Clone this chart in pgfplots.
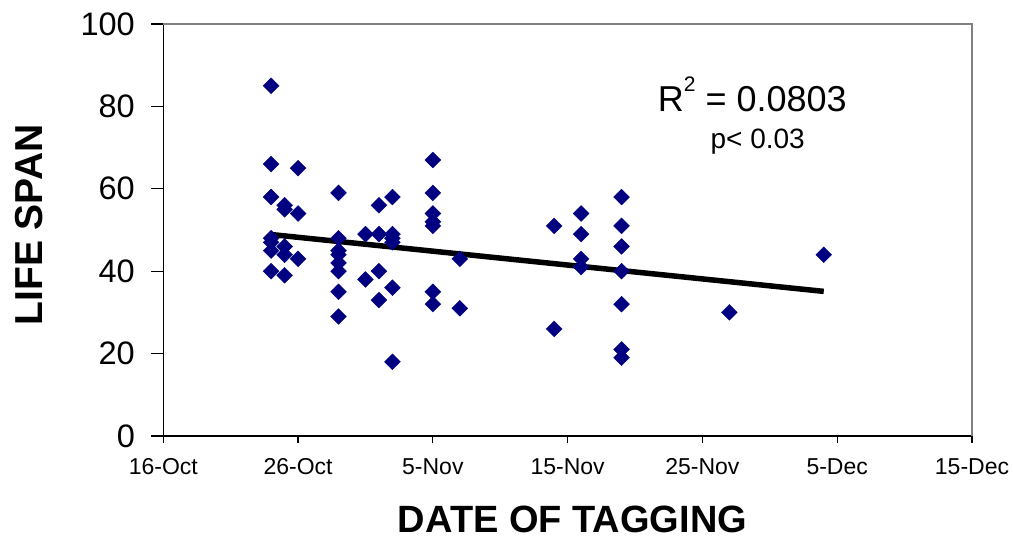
\documentclass[border=0pt]{standalone}
\usepackage{fontspec}
\setmainfont{Liberation Sans}
\usepackage{pgfplots}
\pgfplotsset{compat=1.18}

\definecolor{navy}{HTML}{000080}

% days counted from 16-Oct
\pgfplotstableread{
day life
8 85
8 66
8 58
8 48
8 47
8 45
8 40
9 56
9 55
9 46
9 44
9 39
10 65
10 54
10 43
13 59
13 48
13 45
13 44
13 42
13 40
13 35
13 29
15 49
15 38
16 56
16 49
16 40
16 33
17 58
17 49
17 48
17 47
17 36
17 18
20 67
20 59
20 54
20 52
20 51
20 35
20 32
22 43
22 31
29 51
29 26
31 54
31 49
31 43
31 41
34 58
34 51
34 46
34 40
34 32
34 21
34 19
42 30
49 44
}\tagdata

\begin{document}
\begin{tikzpicture}
\begin{axis}[
    at={(0pt,0pt)}, anchor=south west,
    scale only axis,
    width=808.7pt, height=412pt,
    xmin=0, xmax=60, ymin=0, ymax=100,
    axis lines*=left,
    axis line style={line width=1.2pt},
    tick align=outside,
    xtick={0,10,...,60},
    xticklabels={16-Oct,26-Oct,5-Nov,15-Nov,25-Nov,5-Dec,15-Dec},
    ytick={0,20,...,100},
    x tick style={black, line width=1.2pt, /pgfplots/major tick length=7pt},
    y tick style={black, line width=1.2pt, /pgfplots/major tick length=12pt},
    /pgf/number format/assume math mode=true,
    yticklabel style={font=\fontsize{32.5}{36}\selectfont, anchor=east, inner sep=0pt, xshift=-24pt},
    xticklabel style={font=\fontsize{23}{26}\selectfont, anchor=north, inner sep=0pt, yshift=-18pt},
    xlabel={DATE OF TAGGING},
    ylabel={LIFE SPAN},
    xlabel style={font=\fontsize{38}{42}\selectfont\bfseries, at={(axis description cs:0.506,0)}, anchor=base, inner sep=0pt, yshift=-96pt},
    ylabel style={font=\fontsize{39}{42}\selectfont\bfseries, at={(axis description cs:-0.1658,0.512)}, anchor=center},
    clip=false,
]
\draw[gray, line width=1.2pt] (rel axis cs:0,1) -- (rel axis cs:1,1) -- (rel axis cs:1,0);
\addplot[only marks, mark=square*, mark size=5.6pt,
    mark options={rotate=45, fill=navy, draw=navy}]
    table[x=day, y=life] {\tagdata};
\addplot[black, line width=5.5pt, no marks] coordinates {(8,48.9) (49,35.1)};
\node[anchor=base, font=\fontsize{36}{38}\selectfont] at (axis cs:43.7,78.7)
    {R\raisebox{20pt}{\fontsize{21}{24}\selectfont 2} = 0.0803};
\node[anchor=base, font=\fontsize{28}{30}\selectfont] at (axis cs:44.1,69.8) {p< 0.03};
\end{axis}
\pgfresetboundingbox
\path[use as bounding box] (-163.3pt,-105pt) rectangle (849.7pt,436pt);
\end{tikzpicture}
\end{document}
